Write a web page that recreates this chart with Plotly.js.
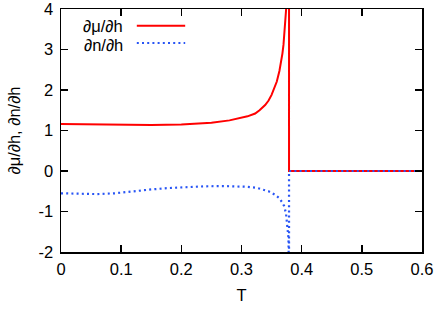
<!DOCTYPE html>
<html>
<head>
<meta charset="utf-8">
<script src="https://cdn.plot.ly/plotly-3.0.1.min.js"></script>
<style>html,body{margin:0;padding:0;background:#fff;}#plot{width:437px;height:311px;}</style>
</head>
<body>
<div id="plot"></div>
<script>
// dmu/dh (red, solid)
const T_mu = [0, 0.05, 0.1, 0.15, 0.2, 0.25, 0.28, 0.3, 0.31, 0.3227, 0.33, 0.3393, 0.345, 0.35, 0.355, 0.3587, 0.363, 0.366, 0.368, 0.3698, 0.3715, 0.3726, 0.3743, 0.376, 0.377, 0.378, 0.379, 0.379, 0.6];
const dmu = [1.16, 1.15, 1.14, 1.135, 1.15, 1.19, 1.25, 1.31, 1.35, 1.42, 1.5, 1.63, 1.74, 1.88, 2.05, 2.21, 2.47, 2.70, 2.9, 3.12, 3.4, 3.61, 4.02, 4.8, 6.5, 12, 40, 0, 0];
// dn/dh (blue, dotted)
const T_n = [0, 0.03, 0.06, 0.09, 0.12, 0.15, 0.18, 0.21, 0.24, 0.27, 0.29, 0.31, 0.325, 0.335, 0.345, 0.355, 0.362, 0.367, 0.371, 0.374, 0.376, 0.378, 0.3786, 0.379, 0.379, 0.6];
const dn = [-0.55, -0.565, -0.57, -0.55, -0.5, -0.455, -0.42, -0.395, -0.378, -0.372, -0.375, -0.39, -0.415, -0.45, -0.5, -0.58, -0.66, -0.76, -0.87, -1.05, -1.3, -1.65, -2.2, -4, 0, 0];

const legendNames = ['∂μ/∂h', '∂n/∂h'];
const xTickVals = [0, 0.1, 0.2, 0.3, 0.4, 0.5, 0.6];
const xTickText = ['0', '0.1', '0.2', '0.3', '0.4', '0.5', '0.6'];
const yTickVals = [-2, -1, 0, 1, 2, 3, 4];
const yTickText = ['-2', '-1', '0', '1', '2', '3', '4'];
const xTitle = 'T';
const yTitle = '∂μ/∂h, ∂n/∂h';

const red = 'rgb(255,0,0)';
const blue = 'rgb(40,85,245)';
const font = {family: '"Liberation Sans", Arial, sans-serif', size: 16.5, color: '#000'};

const traces = [
  {x: T_mu, y: dmu, mode: 'lines', name: legendNames[0], line: {color: red, width: 2}},
  {x: T_n, y: dn, mode: 'lines', name: legendNames[1], line: {color: blue, width: 2.2, dash: '2px,3.2px'}}
];

const axisCommon = {
  showline: true, linecolor: '#000', linewidth: 1.5, mirror: 'ticks',
  ticks: 'inside', ticklen: 7, tickwidth: 1.5, tickcolor: '#000',
  showgrid: false, zeroline: false, tickfont: font, ticklabeloverflow: 'allow'
};

const layout = {
  width: 437, height: 311,
  margin: {l: 61, r: 15.3, t: 9.3, b: 59.3},
  paper_bgcolor: '#fff', plot_bgcolor: '#fff',
  showlegend: false,
  font: font,
  xaxis: Object.assign({}, axisCommon, {
    range: [0, 0.6], tickvals: xTickVals, ticktext: xTickText, ticklabelstandoff: 2,
    title: {text: xTitle, font: font, standoff: 12}
  }),
  yaxis: Object.assign({}, axisCommon, {
    range: [-2, 4], tickvals: yTickVals, ticktext: yTickText, ticklabelstandoff: 3,
    title: {text: yTitle, font: font, standoff: 14}
  }),
  annotations: [
    {xref: 'paper', yref: 'paper', x: 0.1774, y: 0.929, text: legendNames[0], showarrow: false, xanchor: 'right', yanchor: 'middle', font: font},
    {xref: 'paper', yref: 'paper', x: 0.1774, y: 0.853, text: legendNames[1], showarrow: false, xanchor: 'right', yanchor: 'middle', font: font}
  ],
  shapes: [
    {type: 'line', xref: 'paper', yref: 'paper', x0: 0.21, x1: 0.344, y0: 0.931, y1: 0.931, line: {color: red, width: 2}},
    {type: 'line', xref: 'paper', yref: 'paper', x0: 0.21, x1: 0.344, y0: 0.86, y1: 0.86, line: {color: blue, width: 2.2, dash: '2px,3.2px'}}
  ]
};

Plotly.newPlot('plot', traces, layout, {staticPlot: true, displayModeBar: false});
</script>
</body>
</html>
